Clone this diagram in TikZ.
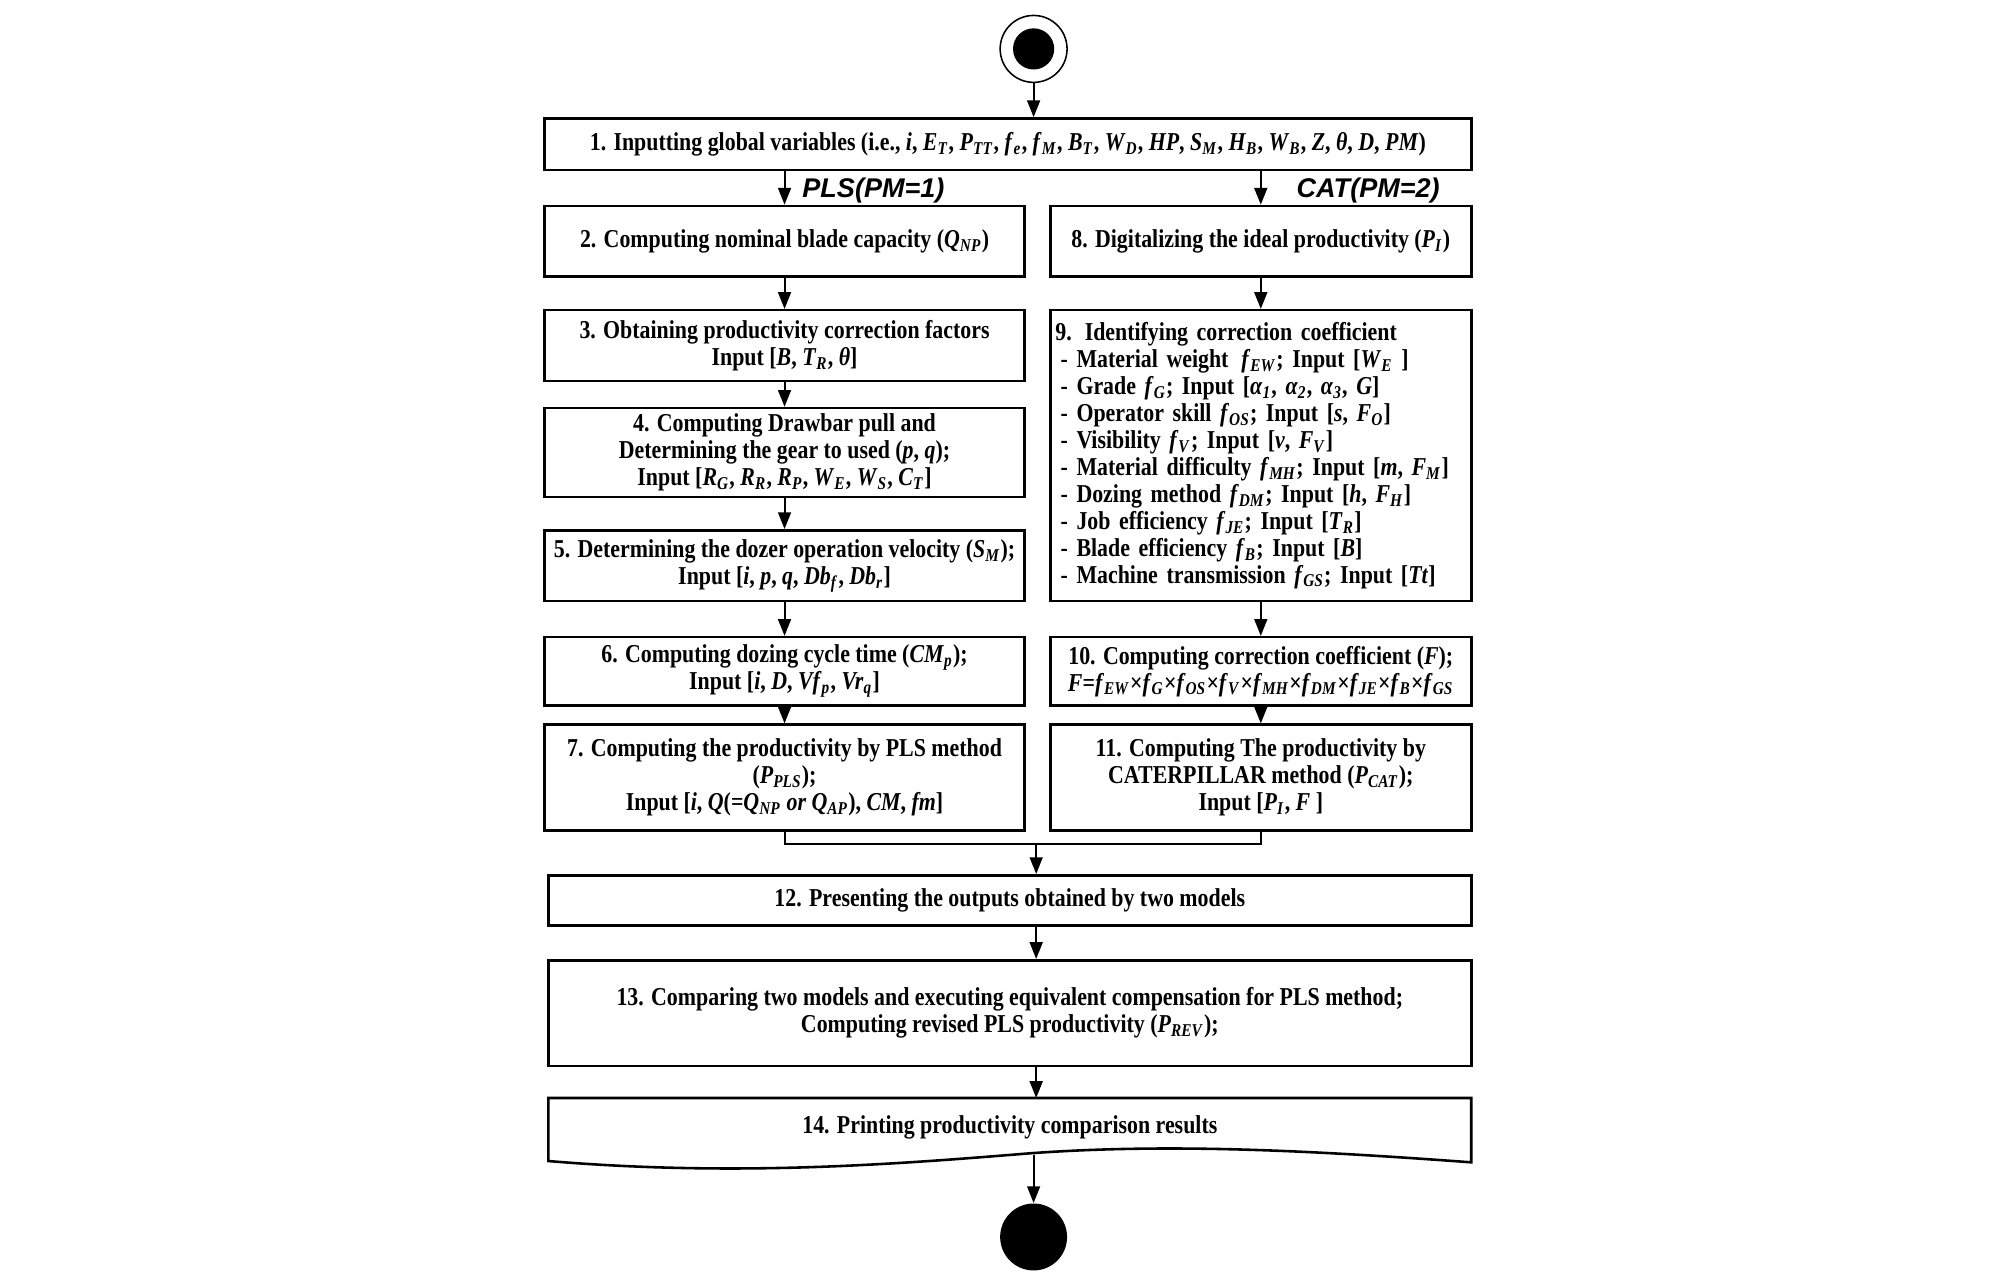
\documentclass[tikz,border=0pt]{standalone}
\usepackage{fontspec}
\setmainfont{Liberation Serif}[FakeStretch=0.85]
\newfontfamily\lblfont{Liberation Sans}
\usetikzlibrary{arrows.meta}
\newcommand\sv[2]{\textit{#1}\textsubscript{\textit{#2}}}
\begin{document}
\begin{tikzpicture}[x=0.5pt,y=-0.5pt,
  font=\bfseries\fontsize{10}{10.45}\selectfont,
  box/.style={draw, line width=1pt, align=center, inner sep=1pt, fill=white},
  lbox/.style={box, minimum width=186.5pt},
  rbox/.style={box, minimum width=163.5pt},
  wbox/.style={box, minimum width=358.5pt},
  arr/.style={-{Triangle[length=6.5pt,width=5pt]}, line width=0.75pt},
  lnk/.style={line width=0.75pt},
  lbl/.style={font=\lblfont\bfseries\itshape\fontsize{10.5}{12}\selectfont, inner sep=0pt}]
\useasboundingbox (0,0) rectangle (1560,990);

% start / end
\node[circle, draw, line width=0.6pt, minimum size=26pt, inner sep=0pt] (start) at (803,38) {};
\node[circle, fill=black, minimum size=16pt, inner sep=0pt] (startdot) at (start) {};
\node[circle, fill=black, minimum size=26pt, inner sep=0pt] (end) at (803,961) {};

% box 1
\node[box, minimum width=360pt, minimum height=20pt] (b1) at (783,112)
 {1. Inputting global variables (i.e., \textit{i}, \sv{E}{T}, \sv{P}{TT}, \sv{f}{e}, \sv{f}{M}, \sv{B}{T}, \sv{W}{D}, \textit{HP}, \sv{S}{M}, \sv{H}{B}, \sv{W}{B}, \textit{Z}, \textit{θ}, \textit{D}, \textit{PM})};

% labels
\node[lbl, anchor=west] (pls) at (623,148) {PLS(PM=1)};
\node[lbl, anchor=west] (cat) at (1007,148) {CAT(PM=2)};

% left column
\node[lbox, minimum height=27.5pt] (b2) at (609.5,187.5)
 {2. Computing nominal blade capacity (\sv{Q}{NP})};
\node[lbox, minimum height=27.5pt] (b3) at (609.5,268.5)
 {3. Obtaining productivity correction factors\\Input [\textit{B}, \sv{T}{R}, \textit{θ}]};
\node[lbox, minimum height=34.5pt] (b4) at (609.5,351.5)
 {4. Computing Drawbar pull and\\Determining the gear to used (\textit{p}, \textit{q});\\Input [\sv{R}{G}, \sv{R}{R}, \sv{R}{P}, \sv{W}{E}, \sv{W}{S}, \sv{C}{T}]};
\node[lbox, minimum height=27.5pt] (b5) at (609.5,439.5)
 {5. Determining the dozer operation velocity (\sv{S}{M});\\Input [\textit{i}, \textit{p}, \textit{q}, \sv{Db}{f}, \sv{Db}{r}]};
\node[lbox, minimum height=26.5pt] (b6) at (609.5,521.5)
 {6. Computing dozing cycle time (\sv{CM}{p});\\Input [\textit{i}, \textit{D}, \sv{Vf}{p}, \sv{Vr}{q}]};
\node[lbox, minimum height=41pt] (b7) at (609.5,604)
 {7. Computing the productivity by PLS method\\(\sv{P}{PLS});\\Input [\textit{i}, \textit{Q}(=\sv{Q}{NP} \textit{or} \sv{Q}{AP}), \textit{CM}, \textit{fm}]};

% right column
\node[rbox, minimum height=27.5pt] (b8) at (979.5,187.5)
 {8. Digitalizing the ideal productivity (\sv{P}{I})};
\node[rbox, minimum height=113pt, align=left, text width=159.5pt, inner xsep=2pt] (b9) at (979.5,354)
 {9. Identifying correction coefficient\\
  \hspace*{2pt}- Material weight\enspace\sv{f}{EW}; Input [\sv{W}{E} ]\\
  \hspace*{2pt}- Grade \sv{f}{G}; Input [\sv{α}{1}, \sv{α}{2}, \sv{α}{3}, \textit{G}]\\
  \hspace*{2pt}- Operator skill \sv{f}{OS}; Input [\textit{s}, \sv{F}{O}]\\
  \hspace*{2pt}- Visibility \sv{f}{V}; Input [\textit{v}, \sv{F}{V}]\\
  \hspace*{2pt}- Material difficulty \sv{f}{MH}; Input [\textit{m}, \sv{F}{M}]\\
  \hspace*{2pt}- Dozing method \sv{f}{DM}; Input [\textit{h}, \sv{F}{H}]\\
  \hspace*{2pt}- Job efficiency \sv{f}{JE}; Input [\sv{T}{R}]\\
  \hspace*{2pt}- Blade efficiency \sv{f}{B}; Input [\textit{B}]\\
  \hspace*{2pt}- Machine transmission \sv{f}{GS}; Input [\textit{Tt}]};
\node[rbox, minimum height=26.5pt] (b10) at (979.5,521.5)
 {10. Computing correction coefficient (\textit{F});\\\textit{F}=\sv{f}{EW}×\sv{f}{G}×\sv{f}{OS}×\sv{f}{V}×\sv{f}{MH}×\sv{f}{DM}×\sv{f}{JE}×\sv{f}{B}×\sv{f}{GS}};
\node[rbox, minimum height=41pt] (b11) at (979.5,604)
 {11. Computing The productivity by\\CATERPILLAR method (\sv{P}{CAT});\\Input [\sv{P}{I}, \textit{F} ]};

% bottom boxes
\node[wbox, minimum height=19.5pt] (b12) at (784.5,699.5)
 {12. Presenting the outputs obtained by two models};
\node[wbox, minimum height=41pt] (b13) at (784.5,787)
 {13. Comparing two models and executing equivalent compensation for PLS method;\\Computing revised PLS productivity (\sv{P}{REV});};

% box 14: document shape
\draw[line width=1pt, fill=white] (426,853) -- (1143,853) -- (1143,903)
  .. controls (1020,894) and (910,888) .. (800,896)
  .. controls (690,905) and (570,914) .. (426,902) -- cycle;
\node (b14) at (784.5,876) {14. Printing productivity comparison results};

% coordinates
\coordinate (mj) at (805,656);
\coordinate (d14t) at (805,853);
\coordinate (d14b) at (803,897);

% connectors
\draw[arr] (start) -- (start |- b1.north);
\draw[arr] (b1.south -| b2.north) -- (b2.north);
\draw[arr] (b1.south -| b8.north) -- (b8.north);
\draw[arr] (b2) -- (b3);
\draw[arr] (b3) -- (b4);
\draw[arr] (b4) -- (b5);
\draw[arr] (b5) -- (b6);
\draw[arr] (b6) -- (b7);
\draw[arr] (b8) -- (b9);
\draw[arr] (b9) -- (b10);
\draw[arr] (b10) -- (b11);
\draw[lnk] (b7.south) |- (mj) -| (b11.south);
\draw[arr] (mj) -- (mj |- b12.north);
\draw[arr] (mj |- b12.south) -- (mj |- b13.north);
\draw[arr] (mj |- b13.south) -- (d14t);
\draw[arr] (d14b) -- (end);
\end{tikzpicture}
\end{document}
